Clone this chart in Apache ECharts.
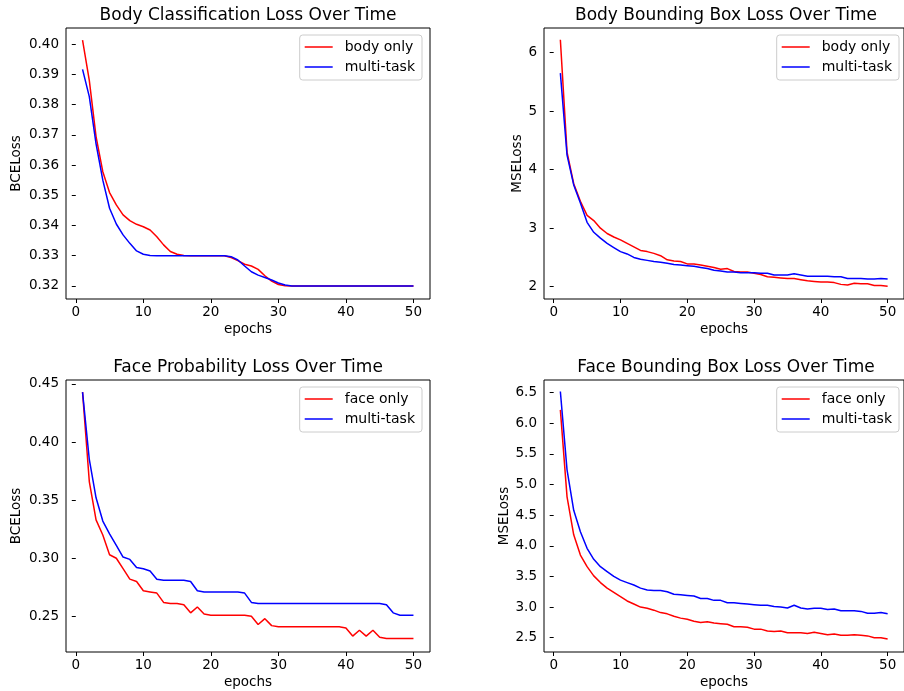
<!DOCTYPE html>
<html>
<head>
<meta charset="utf-8">
<script src="https://cdn.jsdelivr.net/npm/echarts@6/dist/echarts.min.js"></script>
<style>
  html, body { margin: 0; padding: 0; background: #fff; }
  #main { width: 904px; height: 691px; }
</style>
</head>
<body>
<div id="main"></div>
<script>
// epochs on the x axis
const epochs = [1,2,3,4,5,6,7,8,9,10,11,12,13,14,15,16,17,18,19,20,21,22,23,24,25,
  26,27,28,29,30,31,32,33,34,35,36,37,38,39,40,41,42,43,44,45,46,47,48,49,50];

// body classification loss (BCE)
const bodyClsOnly = [0.4013,0.388,0.3694,0.3578,0.3509,0.3468,0.3435,0.3416,0.3404,0.3396,
  0.3385,0.3363,0.3336,0.3314,0.3305,0.3301,0.330,0.330,0.330,0.330,
  0.330,0.330,0.3294,0.3284,0.3272,0.3266,0.3255,0.3234,0.3216,0.3205,
  0.3201,0.320,0.320,0.320,0.320,0.320,0.320,0.320,0.320,0.320,
  0.320,0.320,0.320,0.320,0.320,0.320,0.320,0.320,0.320,0.320];
const bodyClsMulti = [0.3916,0.3826,0.367,0.355,0.3457,0.3405,0.3369,0.3341,0.3316,0.3305,
  0.3301,0.330,0.330,0.330,0.330,0.330,0.330,0.330,0.330,0.330,
  0.330,0.330,0.3297,0.3286,0.3266,0.3247,0.3236,0.3228,0.322,0.321,
  0.3203,0.320,0.320,0.320,0.320,0.320,0.320,0.320,0.320,0.320,
  0.320,0.320,0.320,0.320,0.320,0.320,0.320,0.320,0.320,0.320];

// body bounding box loss (MSE)
const bodyBoxOnly = [6.22,4.30,3.76,3.46,3.22,3.13,3.00,2.91,2.85,2.80,
  2.74,2.68,2.62,2.60,2.57,2.53,2.46,2.44,2.43,2.39,
  2.39,2.37,2.35,2.33,2.30,2.31,2.26,2.25,2.25,2.23,
  2.21,2.17,2.16,2.15,2.14,2.14,2.12,2.10,2.09,2.08,
  2.08,2.07,2.04,2.03,2.06,2.05,2.05,2.02,2.02,2.01];
const bodyBoxMulti = [5.65,4.25,3.74,3.43,3.10,2.93,2.83,2.74,2.67,2.60,
  2.56,2.50,2.47,2.45,2.43,2.42,2.40,2.38,2.37,2.36,
  2.35,2.33,2.31,2.28,2.27,2.25,2.25,2.24,2.24,2.24,
  2.23,2.23,2.20,2.20,2.20,2.22,2.20,2.18,2.18,2.18,
  2.18,2.17,2.17,2.14,2.14,2.14,2.13,2.13,2.14,2.13];

// face probability loss (BCE)
const faceProbOnly = [0.443,0.366,0.333,0.320,0.303,0.300,0.291,0.282,0.280,0.272,
  0.271,0.270,0.262,0.261,0.261,0.260,0.253,0.258,0.252,0.251,
  0.251,0.251,0.251,0.251,0.251,0.250,0.243,0.248,0.242,0.241,
  0.241,0.241,0.241,0.241,0.241,0.241,0.241,0.241,0.241,0.240,
  0.233,0.238,0.233,0.238,0.232,0.231,0.231,0.231,0.231,0.231];
const faceProbMulti = [0.443,0.385,0.352,0.332,0.321,0.311,0.301,0.299,0.292,0.291,
  0.289,0.282,0.281,0.281,0.281,0.281,0.280,0.272,0.271,0.271,
  0.271,0.271,0.271,0.271,0.270,0.262,0.261,0.261,0.261,0.261,
  0.261,0.261,0.261,0.261,0.261,0.261,0.261,0.261,0.261,0.261,
  0.261,0.261,0.261,0.261,0.261,0.260,0.253,0.251,0.251,0.251];

// face bounding box loss (MSE)
const faceBoxOnly = [6.22,4.80,4.18,3.85,3.66,3.51,3.40,3.31,3.24,3.17,
  3.10,3.05,3.00,2.98,2.95,2.91,2.89,2.85,2.82,2.80,
  2.77,2.75,2.76,2.74,2.73,2.72,2.68,2.68,2.67,2.64,
  2.64,2.61,2.60,2.61,2.58,2.58,2.58,2.57,2.59,2.57,
  2.55,2.56,2.54,2.54,2.55,2.54,2.53,2.50,2.50,2.48];
const faceBoxMulti = [6.52,5.24,4.58,4.23,3.96,3.78,3.66,3.58,3.50,3.44,
  3.40,3.36,3.31,3.28,3.27,3.27,3.25,3.21,3.20,3.19,
  3.18,3.14,3.14,3.11,3.11,3.07,3.07,3.06,3.05,3.04,
  3.03,3.03,3.01,3.00,2.985,3.03,2.985,2.97,2.98,2.98,
  2.96,2.97,2.94,2.94,2.94,2.93,2.90,2.90,2.91,2.89];

const titles = ['Body Classification Loss Over Time', 'Body Bounding Box Loss Over Time',
  'Face Probability Loss Over Time', 'Face Bounding Box Loss Over Time'];
const yNames = ['BCELoss', 'MSELoss', 'BCELoss', 'MSELoss'];
const xTicks = [0, 10, 20, 30, 40, 50];
const yTicks1 = [0.32, 0.33, 0.34, 0.35, 0.36, 0.37, 0.38, 0.39, 0.40];
const yTicks2 = [2, 3, 4, 5, 6];
const yTicks3 = [0.25, 0.30, 0.35, 0.40, 0.45];
const yTicks4 = [2.5, 3.0, 3.5, 4.0, 4.5, 5.0, 5.5, 6.0, 6.5];

const FONT = 'DejaVu Sans';
const RED = '#ff0000', BLUE = '#0000ff';

const pair = arr => epochs.map((e, i) => [e, arr[i]]);

const grids = [
  { left: 66, top: 28, width: 364, height: 271 },
  { left: 544, top: 28, width: 364, height: 271 },
  { left: 66, top: 380, width: 364, height: 272 },
  { left: 544, top: 380, width: 364, height: 272 }
].map(g => Object.assign(g, { show: true, borderColor: '#000', borderWidth: 1 }));

const yCfg = [
  { min: 0.3157, max: 0.4053, ticks: yTicks1, dec: 2, gap: 43 },
  { min: 1.79, max: 6.422, ticks: yTicks2, dec: 0, gap: 20 },
  { min: 0.2193, max: 0.4534, ticks: yTicks3, dec: 2, gap: 43 },
  { min: 2.267, max: 6.707, ticks: yTicks4, dec: 1, gap: 32 }
];

const tickStyle = { show: true, length: 4, lineStyle: { color: '#000', width: 1 } };

const xAxes = grids.map((g, i) => ({
  type: 'value', gridIndex: i, min: -1.45, max: 52.45,
  name: 'epochs', nameLocation: 'middle', nameGap: 23,
  nameTextStyle: { fontFamily: FONT, fontSize: 13.5, color: '#000' },
  axisLine: { show: false },
  splitLine: { show: false },
  axisTick: Object.assign({ customValues: xTicks }, tickStyle),
  axisLabel: { customValues: xTicks, fontFamily: FONT, fontSize: 13.5, color: '#000', margin: 6 }
}));

const yAxes = yCfg.map((c, i) => ({
  type: 'value', gridIndex: i, min: c.min, max: c.max,
  name: yNames[i], nameLocation: 'middle', nameGap: c.gap, nameRotate: 90,
  nameTextStyle: { fontFamily: FONT, fontSize: 13.5, color: '#000' },
  axisLine: { show: false },
  splitLine: { show: false },
  axisTick: Object.assign({ customValues: c.ticks }, tickStyle),
  axisLabel: {
    customValues: c.ticks, fontFamily: FONT, fontSize: 13.5, color: '#000', margin: 7,
    formatter: v => Number(v).toFixed(c.dec)
  }
}));

const line = (name, data, color, idx) => ({
  name, type: 'line', xAxisIndex: idx, yAxisIndex: idx,
  data: pair(data), showSymbol: false, symbol: 'none',
  lineStyle: { color, width: 1.5 }, itemStyle: { color },
  emphasis: { disabled: true }
});

const legendBox = (names, right, top) => ({
  orient: 'vertical', right, top, data: names,
  backgroundColor: '#fff', borderColor: '#cccccc', borderWidth: 1, borderRadius: 3,
  padding: [5, 7, 6, 5], itemGap: 6, itemWidth: 28, itemHeight: 1.5, icon: 'rect',
  selectedMode: false,
  textStyle: { fontFamily: FONT, fontSize: 14, color: '#000', padding: [0, 0, 0, 7] }
});

const chart = echarts.init(document.getElementById('main'), null, { renderer: 'canvas' });
chart.setOption({
  animation: false,
  backgroundColor: '#fff',
  title: titles.map((t, i) => ({
    text: t, left: [248, 726, 248, 726][i], top: [7, 7, 359, 359][i], textAlign: 'center', padding: 0,
    textStyle: { fontFamily: FONT, fontSize: 17, fontWeight: 'normal', color: '#000' }
  })),
  legend: [
    legendBox(['body only', 'multi-task'], 482, 35),
    legendBox(['body only', 'multi-task'], 5, 35),
    legendBox(['face only', 'multi-task'], 482, 387),
    legendBox(['face only', 'multi-task'], 5, 387)
  ],
  grid: grids,
  xAxis: xAxes,
  yAxis: yAxes,
  series: [
    line('body only', bodyClsOnly, RED, 0),
    line('multi-task', bodyClsMulti, BLUE, 0),
    line('body only', bodyBoxOnly, RED, 1),
    line('multi-task', bodyBoxMulti, BLUE, 1),
    line('face only', faceProbOnly, RED, 2),
    line('multi-task', faceProbMulti, BLUE, 2),
    line('face only', faceBoxOnly, RED, 3),
    line('multi-task', faceBoxMulti, BLUE, 3)
  ]
});
</script>
</body>
</html>
